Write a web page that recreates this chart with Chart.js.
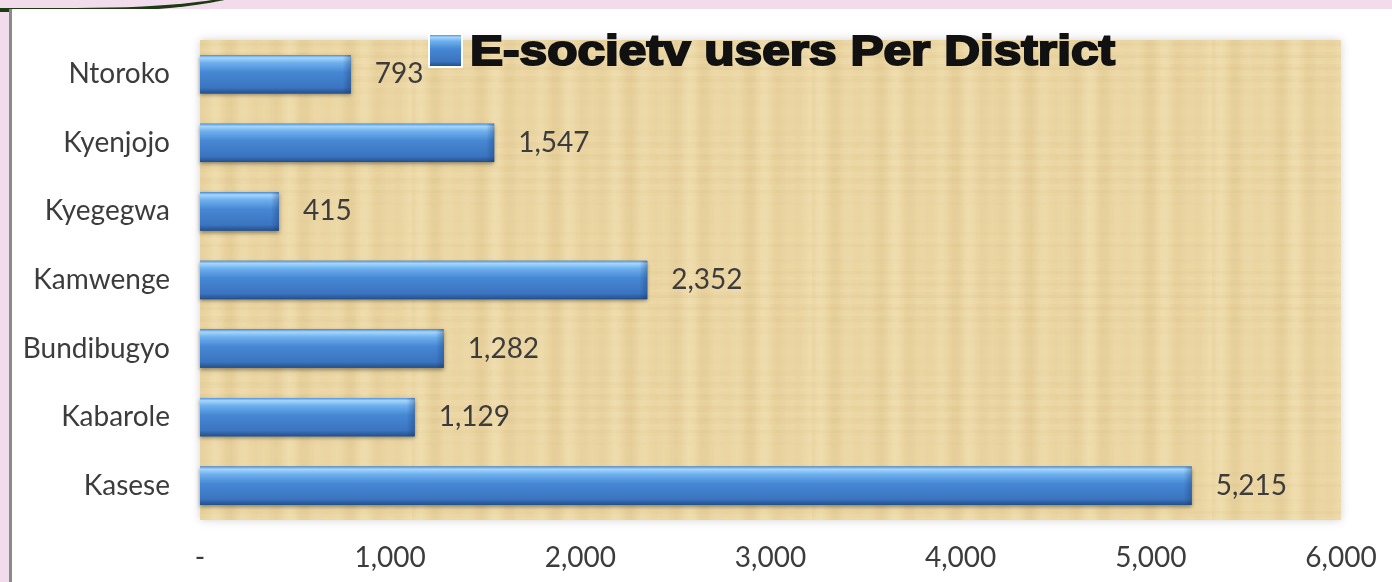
<!DOCTYPE html>
<html>
<head>
<meta charset="utf-8">
<script src="https://cdn.jsdelivr.net/npm/chart.js@4.4.1/dist/chart.umd.min.js"></script>
<style>
    html, body { margin: 0; padding: 0; }
    body { width: 1392px; height: 582px; background: #f2dcec; position: relative; overflow: hidden; }
    #panel { position: absolute; left: 9px; top: 9px; right: 0; bottom: 0; background: #fff; border-left: 3px solid #8a8a8a; }
    #swoosh { position: absolute; left: -40px; top: -30px; width: 290px; height: 38px; border-bottom: 4px solid #1d3b12; border-radius: 0 0 60% 10%; }
    #wrap { position: absolute; left: 12px; top: 10px; width: 1380px; height: 572px; }
</style>
</head>
<body>
<div id="swoosh"></div>
<div id="panel"></div>
<div id="wrap"><canvas id="chart"></canvas></div>
<script>
    const districts = ["Ntoroko", "Kyenjojo", "Kyegegwa", "Kamwenge", "Bundibugyo", "Kabarole", "Kasese"];
    const users = [793, 1547, 415, 2352, 1282, 1129, 5215];
    const seriesLabel = "E-societv users Per District";
    const xTicks = [0, 1000, 2000, 3000, 4000, 5000, 6000];

    const labelFont = { family: "Lato, 'Open Sans', sans-serif", size: 28 };
    const textColor = '#3c3c3c';

    function formatNumber(v) {
        return v === 0 ? '-' : v.toLocaleString('en-US');
    }

    // papyrus-like texture behind the plot area
    function makePapyrus() {
        const c = document.createElement('canvas');
        c.width = 400; c.height = 240;
        const g = c.getContext('2d');
        g.fillStyle = '#ebd6a3';
        g.fillRect(0, 0, 400, 240);
        for (let x = 0; x < 400; x += 2) {
            const s = Math.sin(x * 0.21) * Math.sin(x * 0.047 + 1);
            g.fillStyle = s > 0 ? 'rgba(255,244,212,' + (0.22 * s) + ')' : 'rgba(180,140,70,' + (-0.1 * s) + ')';
            g.fillRect(x, 0, 2, 240);
        }
        for (let y = 0; y < 240; y += 3) {
            const s = Math.sin(y * 0.53) * Math.sin(y * 0.031);
            g.fillStyle = s > 0 ? 'rgba(250,236,200,' + (0.08 * s) + ')' : 'rgba(175,135,70,' + (-0.05 * s) + ')';
            g.fillRect(0, y, 400, 3);
        }
        return c;
    }

    const papyrusPlugin = {
        id: 'papyrus',
        beforeDraw(chart) {
            const { ctx, chartArea: a } = chart;
            ctx.save();
            ctx.shadowColor = 'rgba(0,0,0,0.18)';
            ctx.shadowBlur = 8;
            ctx.fillStyle = ctx.createPattern(makePapyrus(), 'repeat');
            ctx.fillRect(a.left, a.top, a.right - a.left, a.bottom - a.top);
            ctx.restore();
        }
    };

    function barGradient(ctx, top, bottom) {
        const gr = ctx.createLinearGradient(0, top, 0, bottom);
        gr.addColorStop(0, '#4f93de');
        gr.addColorStop(0.07, '#a6d6fb');
        gr.addColorStop(0.2, '#6eb0ee');
        gr.addColorStop(0.45, '#4687d4');
        gr.addColorStop(0.85, '#3b74c0');
        gr.addColorStop(1, '#23508a');
        return gr;
    }

    const barLookPlugin = {
        id: 'barLook',
        afterDatasetsDraw(chart) {
            const ctx = chart.ctx;
            const meta = chart.getDatasetMeta(0);
            ctx.save();
            meta.data.forEach((el, i) => {
                const top = el.y - el.height / 2, bottom = el.y + el.height / 2;
                const left = el.base, right = el.x;
                ctx.shadowColor = 'rgba(40,30,10,0.45)';
                ctx.shadowBlur = 4;
                ctx.shadowOffsetY = 2;
                ctx.fillStyle = barGradient(ctx, top, bottom);
                ctx.fillRect(left, top, right - left, bottom - top);
                ctx.shadowColor = 'transparent';
                // right end bevel
                const eg = ctx.createLinearGradient(right - 8, 0, right, 0);
                eg.addColorStop(0, 'rgba(20,50,100,0)');
                eg.addColorStop(1, 'rgba(20,50,100,0.35)');
                ctx.fillStyle = eg;
                ctx.fillRect(right - 8, top, 8, bottom - top);
                // value label
                ctx.font = labelFont.size + 'px ' + labelFont.family;
                ctx.fillStyle = textColor;
                ctx.textAlign = 'left';
                ctx.textBaseline = 'middle';
                ctx.fillText(formatNumber(users[i]), right + 24, el.y);
            });
            ctx.restore();
        }
    };

    const titleLegendPlugin = {
        id: 'titleLegend',
        afterDraw(chart) {
            const ctx = chart.ctx;
            ctx.save();
            // legend box
            const bx = 418, by = 25, bs = 31;
            ctx.fillStyle = '#fff';
            ctx.fillRect(bx - 2, by - 2, bs + 4, bs + 4);
            ctx.fillStyle = barGradient(ctx, by, by + bs);
            ctx.fillRect(bx, by, bs, bs);
            // label
            ctx.font = "bold 42px 'Liberation Sans', Arial, sans-serif";
            ctx.fillStyle = '#111';
            ctx.textBaseline = 'alphabetic';
            const w = ctx.measureText(seriesLabel).width;
            const target = 645;
            ctx.translate(458, 55);
            ctx.scale(target / w, 1);
            ctx.lineWidth = 2;
            ctx.strokeStyle = '#111';
            ctx.strokeText(seriesLabel, 0, 0);
            ctx.fillText(seriesLabel, 0, 0);
            ctx.restore();
        }
    };

    const ctx = document.getElementById('chart').getContext('2d');
    new Chart(ctx, {
        type: 'bar',
        data: {
            labels: districts,
            datasets: [{
                label: seriesLabel,
                data: users,
                backgroundColor: '#3e7dc8',
                categoryPercentage: 1,
                barPercentage: 0.56
            }]
        },
        options: {
            indexAxis: 'y',
            responsive: true,
            maintainAspectRatio: false,
            animation: false,
            layout: { padding: { left: 0, right: 51, top: 30, bottom: 0 } },
            scales: {
                x: {
                    min: 0,
                    max: 6000,
                    afterBuildTicks(scale) { scale.ticks = xTicks.map(v => ({ value: v })); },
                    afterFit(scale) { scale.height = 62; },
                    // tick marks are hidden; tickLength only spaces the labels
                    grid: { display: false, drawTicks: true, tickLength: 21 },
                    border: { display: false },
                    ticks: {
                        padding: 0,
                        color: textColor,
                        font: labelFont,
                        maxRotation: 0,
                        callback: v => formatNumber(v)
                    }
                },
                y: {
                    afterFit(scale) { scale.width = 188; },
                    grid: { display: false, drawTicks: true, tickLength: 30 },
                    border: { display: false },
                    ticks: { padding: 0, color: textColor, font: labelFont }
                }
            },
            plugins: {
                legend: { display: false },
                tooltip: { enabled: false }
            }
        },
        plugins: [papyrusPlugin, barLookPlugin, titleLegendPlugin]
    });
</script>
</body>
</html>
